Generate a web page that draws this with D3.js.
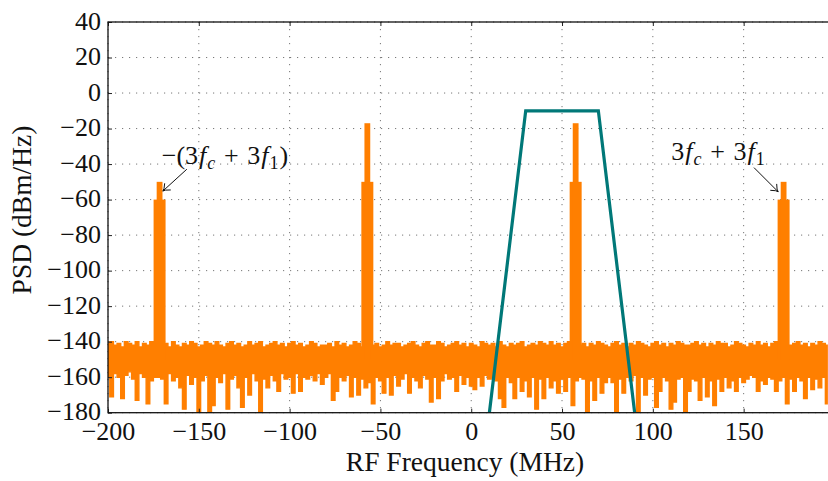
<!DOCTYPE html>
<html>
<head>
<meta charset="utf-8">
<script src="https://cdn.jsdelivr.net/npm/d3@7"></script>
<style>
  body { margin: 0; background: #fff; }
  svg text { font-family: "Liberation Serif", "Times New Roman", serif; fill: #111; }
</style>
</head>
<body>
<div id="chart"></div>
<script>
// spectrum sampled every 2 MHz: upper / lower edge of the noise trace (dBm/Hz)
var noiseFreq = d3.range(-200, 197, 2);
var noiseHi = [
  -141,-140,-142,-141,-143,-140,-141,-142,-140,-143,
  -141,-142,-140,-141,-140,-142,-141,-143,-140,-142,
  -143,-141,-142,-140,-141,-143,-142,-140,-141,-142,
  -140,-142,-143,-141,-140,-142,-141,-143,-142,-140,
  -142,-141,-140,-143,-142,-141,-140,-142,-141,-143,
  -141,-140,-142,-141,-143,-142,-140,-141,-143,-142,
  -142,-141,-143,-140,-142,-141,-143,-142,-140,-141,
  -143,-141,-140,-142,-141,-143,-142,-140,-142,-141,
  -141,-143,-142,-141,-140,-142,-143,-141,-140,-142,
  -142,-140,-141,-143,-142,-141,-140,-142,-141,-143,
  -141,-142,-143,-140,-141,-142,-141,-143,-140,-142,
  -143,-141,-142,-141,-140,-143,-142,-141,-142,-140,
  -141,-142,-140,-142,-141,-143,-141,-140,-142,-141,
  -142,-141,-143,-141,-142,-140,-141,-142,-143,-141,
  -140,-142,-141,-143,-141,-142,-140,-141,-142,-143,
  -141,-140,-142,-141,-143,-141,-142,-140,-141,-142,
  -142,-141,-140,-142,-141,-143,-141,-142,-140,-141,
  -141,-143,-142,-140,-141,-142,-143,-141,-142,-140,
  -142,-141,-143,-141,-140,-142,-141,-143,-142,-141,
  -140,-142,-141,-143,-141,-142,-140,-141,-142
];
var noiseLo = [
  -160,-171,-158,-160,-172,-159,-157,-161,-173,-158,
  -160,-175,-162,-160,-160,-161,-175,-158,-162,-160,
  -166,-178,-159,-164,-160,-180,-162,-159,-180,-176,
  -160,-163,-158,-178,-161,-159,-166,-177,-160,-170,
  -158,-162,-180,-161,-166,-159,-162,-168,-158,-161,
  -160,-169,-158,-168,-160,-161,-159,-162,-158,-164,
  -160,-158,-173,-168,-160,-162,-159,-171,-160,-170,
  -161,-166,-163,-175,-160,-162,-169,-160,-170,-159,
  -165,-161,-158,-169,-160,-162,-166,-159,-161,-174,
  -160,-172,-162,-158,-161,-160,-168,-159,-164,-160,
  -165,-167,-160,-165,-159,-161,-160,-162,-172,-177,
  -160,-163,-172,-160,-168,-162,-171,-160,-178,-161,
  -172,-160,-166,-162,-169,-161,-168,-160,-176,-162,
  -160,-161,-180,-162,-173,-160,-169,-163,-160,-163,
  -180,-161,-169,-160,-162,-159,-180,-160,-170,-161,
  -160,-177,-168,-160,-162,-178,-174,-161,-160,-180,
  -168,-161,-162,-173,-160,-171,-162,-176,-161,-168,
  -160,-166,-162,-168,-160,-163,-161,-159,-160,-168,
  -162,-164,-160,-161,-168,-162,-160,-175,-161,-168,
  -160,-162,-172,-160,-167,-161,-166,-160,-175
];

// spurs: centre frequency (MHz), spike level, shoulder level
var spurFreq = [-171.6, -57.2, 57.5, 172];
var spurPeak = [-50, -17, -17, -50];
var spurShoulder = [-60, -50, -50, -60];
var spurPeakWidth = 3.2;      // MHz
var spurShoulderWidth = 6.6;  // MHz

// band-pass filter mask
var filterFreq = [10, 30, 70, 90];
var filterLevel = [-180, -10, -10, -180];

var xTicks = [-200, -150, -100, -50, 0, 50, 100, 150];
var yTicks = [-180, -160, -140, -120, -100, -80, -60, -40, -20, 0, 20, 40];

var width = 828, height = 481;
var mLeft = 108, mTop = 22, mBottom = 412.7, mRight = 829;

var x = d3.scaleLinear().domain([-200, 197]).range([mLeft, mRight]);
var y = d3.scaleLinear().domain([-180, 40]).range([mBottom, mTop]);

var svg = d3.select("#chart").append("svg")
    .attr("width", width)
    .attr("height", height);

svg.append("defs").append("clipPath").attr("id", "clip")
    .append("rect")
    .attr("x", mLeft).attr("y", mTop)
    .attr("width", mRight - mLeft).attr("height", mBottom - mTop);

// grid
var grid = svg.append("g");
grid.selectAll(".gx").data(xTicks).enter().append("line")
    .attr("x1", d => x(d)).attr("x2", d => x(d))
    .attr("y1", mTop).attr("y2", mBottom)
    .attr("stroke", "#777").attr("stroke-width", 1)
    .attr("stroke-dasharray", "1.2,5.8");
grid.selectAll(".gy").data(yTicks).enter().append("line")
    .attr("x1", mLeft).attr("x2", mRight)
    .attr("y1", d => y(d)).attr("y2", d => y(d))
    .attr("stroke", "#777").attr("stroke-width", 1)
    .attr("stroke-dasharray", "1.2,5.8");

var plot = svg.append("g").attr("clip-path", "url(#clip)");

var orange = "#ff7f00";
var teal = "#007878";

// noise floor
var noise = noiseFreq.map((f, i) => ({f: f, hi: noiseHi[i], lo: noiseLo[i]}));
var area = d3.area()
    .curve(d3.curveStep)
    .x(d => x(d.f))
    .y0(d => y(d.lo))
    .y1(d => y(d.hi));
plot.append("path")
    .datum(noise)
    .attr("d", area)
    .attr("fill", orange)
    .attr("stroke", orange)
    .attr("stroke-width", 1.4);

// spurs
var spurs = spurFreq.map((f, i) => ({f: f, peak: spurPeak[i], shoulder: spurShoulder[i]}));
plot.selectAll(".shoulder").data(spurs).enter().append("rect")
    .attr("x", d => x(d.f - spurShoulderWidth / 2))
    .attr("width", d => x(d.f + spurShoulderWidth / 2) - x(d.f - spurShoulderWidth / 2))
    .attr("y", d => y(d.shoulder))
    .attr("height", d => y(-150) - y(d.shoulder))
    .attr("fill", orange);
plot.selectAll(".peak").data(spurs).enter().append("rect")
    .attr("x", d => x(d.f - spurPeakWidth / 2))
    .attr("width", d => x(d.f + spurPeakWidth / 2) - x(d.f - spurPeakWidth / 2))
    .attr("y", d => y(d.peak))
    .attr("height", d => y(-150) - y(d.peak))
    .attr("fill", orange);

// filter mask
var line = d3.line().x(d => x(d[0])).y(d => y(d[1]));
plot.append("path")
    .datum(filterFreq.map((f, i) => [f, filterLevel[i]]))
    .attr("d", line)
    .attr("fill", "none")
    .attr("stroke", teal)
    .attr("stroke-width", 3.2)
    .attr("stroke-linejoin", "miter");

// axes
var fmt = d3.format("d");
var xAxis = svg.append("g")
    .attr("transform", "translate(0," + mBottom + ")")
    .call(d3.axisBottom(x).tickValues(xTicks).tickSize(-4).tickPadding(9).tickFormat(fmt));
var xAxisTop = svg.append("g")
    .attr("transform", "translate(0," + mTop + ")")
    .call(d3.axisTop(x).tickValues(xTicks).tickSize(-4).tickFormat(""));
var yAxis = svg.append("g")
    .attr("transform", "translate(" + mLeft + ",0)")
    .call(d3.axisLeft(y).tickValues(yTicks).tickSize(-4).tickPadding(7).tickFormat(fmt));

[xAxis, xAxisTop, yAxis].forEach(function (g) {
    g.select(".domain").remove();
    g.selectAll(".tick line").attr("stroke", "#222").attr("stroke-width", 1);
    g.selectAll("text")
        .attr("fill", "#111")
        .style("font-family", "'Liberation Serif', serif")
        .style("font-size", "26px");
});
yAxis.selectAll("text").attr("dy", "0.27em");

// frame
svg.append("rect")
    .attr("x", mLeft).attr("y", mTop)
    .attr("width", mRight - mLeft).attr("height", mBottom - mTop)
    .attr("fill", "none").attr("stroke", "#111").attr("stroke-width", 1.3);

// axis labels
svg.append("text")
    .attr("x", 465).attr("y", 471)
    .attr("text-anchor", "middle")
    .style("font-size", "27.5px")
    .text("RF Frequency (MHz)");
svg.append("text")
    .attr("transform", "translate(31," + 210 + ") rotate(-90)")
    .attr("text-anchor", "middle")
    .style("font-size", "27.5px")
    .text("PSD (dBm/Hz)");

// annotations
function annotate(textX, textY, parts, tail, tip) {
    var t = svg.append("text")
        .attr("x", x(textX)).attr("y", y(textY))
        .style("font-size", "26px");
    parts.forEach(function (p) {
        var s = t.append("tspan").text(p.t);
        if (p.i) s.style("font-style", "italic");
        if (p.sub) s.attr("dy", 5).style("font-size", "18px");
        if (p.up) s.attr("dy", -5);
        if (p.dx) s.attr("dx", p.dx);
    });
    var x1 = x(tail[0]), y1 = y(tail[1]), x2 = x(tip[0]), y2 = y(tip[1]);
    svg.append("line")
        .attr("x1", x1).attr("y1", y1).attr("x2", x2).attr("y2", y2)
        .attr("stroke", "#111").attr("stroke-width", 1);
    var a = Math.atan2(y2 - y1, x2 - x1), L = 8, s = 0.6;
    svg.append("path")
        .attr("d", "M" + (x2 - L * Math.cos(a - s)) + "," + (y2 - L * Math.sin(a - s)) +
            " Q" + (x2 - 2 * Math.cos(a)) + "," + (y2 - 2 * Math.sin(a)) + " " + x2 + "," + y2 +
            " Q" + (x2 - 2 * Math.cos(a)) + "," + (y2 - 2 * Math.sin(a)) + " " +
            (x2 - L * Math.cos(a + s)) + "," + (y2 - L * Math.sin(a + s)))
        .attr("fill", "none").attr("stroke", "#111").attr("stroke-width", 1);
}

annotate(-170.4, -40, [
    {t: "\u2212(3"}, {t: "f", i: true, dx: 1}, {t: "c", i: true, sub: true, dx: 1},
    {t: "\u2004+\u20043", up: true}, {t: "f", i: true, dx: 1}, {t: "1", sub: true, dx: 1}, {t: ")", up: true, dx: 1}
], [-156.6, -42.9], [-169.8, -55.2]);

annotate(110.2, -37.7, [
    {t: "3"}, {t: "f", i: true, dx: 1}, {t: "c", i: true, sub: true, dx: 1},
    {t: "\u2004+\u20043", up: true}, {t: "f", i: true, dx: 1}, {t: "1", sub: true, dx: 1}
], [155.7, -42], [169, -55.6]);
</script>
</body>
</html>
